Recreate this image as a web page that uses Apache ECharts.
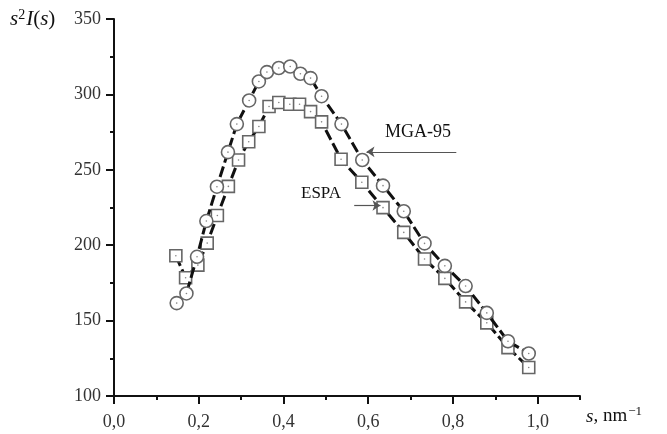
<!DOCTYPE html>
<html>
<head>
<meta charset="utf-8">
<script src="https://cdn.jsdelivr.net/npm/echarts@6/dist/echarts.min.js"></script>
<style>
  html, body { margin: 0; padding: 0; background: #fff; }
  #chart { width: 667px; height: 434px; }
</style>
</head>
<body>
<div id="chart"></div>
<script>
// Scattering curves s^2 I(s) versus s (nm^-1)
const mgaS = [0.148, 0.171, 0.196, 0.218, 0.243, 0.269, 0.290, 0.319, 0.342, 0.361, 0.389, 0.416, 0.440, 0.464, 0.490, 0.537, 0.586, 0.635, 0.684, 0.733, 0.781, 0.830, 0.880, 0.930, 0.979];
const mgaI = [161.6, 168.0, 192.3, 216.0, 238.8, 261.7, 280.3, 296.0, 308.6, 314.8, 317.5, 318.5, 313.7, 310.8, 298.8, 280.3, 256.5, 239.5, 222.5, 201.2, 186.3, 172.9, 155.1, 136.3, 128.2];

const espaS = [0.146, 0.169, 0.198, 0.220, 0.244, 0.270, 0.294, 0.318, 0.342, 0.366, 0.389, 0.415, 0.438, 0.464, 0.490, 0.536, 0.585, 0.635, 0.684, 0.733, 0.781, 0.830, 0.880, 0.930, 0.979];
const espaI = [193.0, 178.4, 186.8, 201.4, 219.7, 239.0, 256.5, 268.6, 278.7, 292.0, 294.6, 293.5, 293.5, 288.6, 281.8, 257.0, 241.7, 224.9, 208.5, 190.8, 178.0, 162.4, 148.5, 132.1, 118.9];

const xMajorTicks = [0, 0.2, 0.4, 0.6, 0.8, 1.0];

const pairs = (xs, ys) => xs.map((x, i) => [x, ys[i]]);
const mgaData = pairs(mgaS, mgaI);
const espaData = pairs(espaS, espaI);

const serif = '"Liberation Serif", "DejaVu Serif", serif';
const tickColor = '#111';

const chart = echarts.init(document.getElementById('chart'), null, { renderer: 'canvas' });

const lineStyle = { color: '#111', width: 3, type: [11, 4] };
const arrowStyle = {
  silent: true, symbol: ['none', 'arrow'], symbolSize: 8,
  itemStyle: { color: '#555' },
  lineStyle: { color: '#555', width: 1.2, type: 'solid' },
  label: { show: false }
};

chart.setOption({
  animation: false,
  backgroundColor: '#fff',
  grid: { left: 114, right: 87, top: 19, bottom: 38, containLabel: false },
  xAxis: [
    {
      type: 'value', min: 0, max: 1.1, interval: 0.2,
      axisLine: { show: true, onZero: false, lineStyle: { color: tickColor, width: 2 } },
      axisTick: { show: true, length: 8, customValues: xMajorTicks, lineStyle: { color: tickColor, width: 2 } },
      axisLabel: {
        customValues: xMajorTicks,
        margin: 17, color: '#333', fontFamily: serif, fontSize: 18,
        formatter: v => v.toFixed(1).replace('.', ',')
      },
      splitLine: { show: false }
    },
    {
      // minor ticks every 0.1
      type: 'value', min: 0, max: 1.1, interval: 0.1, position: 'bottom',
      axisLine: { show: false },
      axisTick: { show: true, length: 4, lineStyle: { color: tickColor, width: 2 } },
      axisLabel: { show: false },
      splitLine: { show: false }
    }
  ],
  yAxis: {
    type: 'value', min: 100, max: 350, interval: 50,
    axisLine: { show: true, onZero: false, lineStyle: { color: tickColor, width: 2 } },
    axisTick: { show: true, length: 8, lineStyle: { color: tickColor, width: 2 } },
    minorTick: { show: true, splitNumber: 2, length: 4, lineStyle: { color: tickColor, width: 2 } },
    axisLabel: { margin: 13, color: '#333', fontFamily: serif, fontSize: 18 },
    splitLine: { show: false }
  },
  series: [
    {
      name: 'ESPA', type: 'line', data: espaData,
      symbol: 'rect', symbolSize: 12, showAllSymbol: true,
      itemStyle: { color: '#fff', borderColor: '#666', borderWidth: 1.6 },
      lineStyle: lineStyle,
      z: 2,
      markLine: Object.assign({}, arrowStyle, {
        data: [[{ coord: [0.567, 226.3] }, { coord: [0.629, 226.3] }]]
      })
    },
    {
      name: 'MGA-95', type: 'line', data: mgaData,
      symbol: 'circle', symbolSize: 13, showAllSymbol: true,
      itemStyle: { color: '#fff', borderColor: '#666', borderWidth: 1.6 },
      lineStyle: lineStyle,
      z: 3,
      markLine: Object.assign({}, arrowStyle, {
        data: [[{ coord: [0.808, 261.9] }, { coord: [0.596, 261.9] }]]
      })
    },
    {
      // centre dots of the markers
      type: 'scatter', data: espaData.concat(mgaData),
      symbol: 'circle', symbolSize: 1.6,
      itemStyle: { color: '#666' }, z: 5, silent: true
    }
  ],
  graphic: [
    {
      type: 'text', left: 10, top: 8,
      style: {
        text: '{i|s}{sup|2}{i|I}{n|(}{i|s}{n|)}',
        rich: {
          i: { fontFamily: serif, fontStyle: 'italic', fontSize: 21, fill: '#111' },
          n: { fontFamily: serif, fontSize: 21, fill: '#111' },
          sup: { fontFamily: serif, fontSize: 14, fill: '#111', verticalAlign: 'top', padding: [0, 1, 8, 0] }
        }
      }
    },
    {
      type: 'text', left: 586, top: 405,
      style: {
        text: '{i|s}{n|, nm}{sup|\u22121}',
        rich: {
          i: { fontFamily: serif, fontStyle: 'italic', fontSize: 19, fill: '#111' },
          n: { fontFamily: serif, fontSize: 19, fill: '#111' },
          sup: { fontFamily: serif, fontSize: 13, fill: '#111', padding: [0, 0, 10, 1] }
        }
      }
    },
    {
      type: 'text', left: 385, top: 123,
      style: { text: 'MGA-95', font: '18px ' + serif, fill: '#111' }
    },
    {
      type: 'text', left: 301, top: 185,
      style: { text: 'ESPA', font: '17px ' + serif, fill: '#111' }
    }
  ]
});
</script>
</body>
</html>
